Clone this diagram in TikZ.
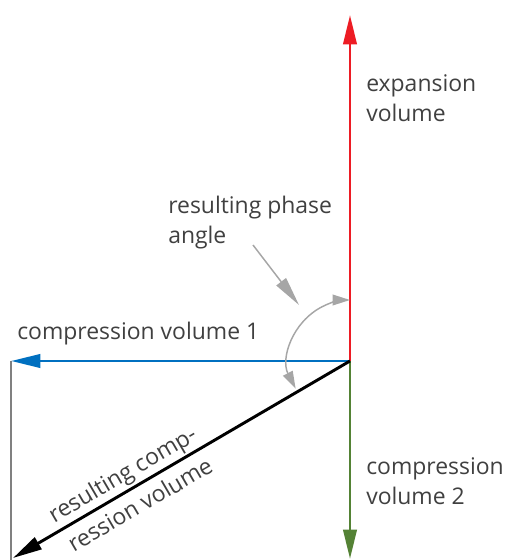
\documentclass[tikz,border=0pt]{standalone}
\usepackage{fontspec}
\setmainfont{Open Sans}
\usetikzlibrary{arrows.meta}
\definecolor{exred}{RGB}{237,28,36}
\definecolor{cpblue}{RGB}{0,112,192}
\definecolor{cpgreen}{RGB}{84,130,53}
\definecolor{txtgray}{RGB}{64,64,64}
\definecolor{arcgray}{RGB}{166,166,166}
\tikzset{
  vec/.style={line width=2.2pt,-{Triangle[length=22pt,width=10pt]}},
  lbl/.style={text=txtgray,font=\fontsize{17.2}{22.5}\selectfont,align=left,inner sep=0pt},
  pointer/.style={arcgray,line width=1.1pt}
}
\begin{document}
\begin{tikzpicture}[x=0.75pt,y=0.75pt]
  \useasboundingbox (-350,-199) rectangle (155,361);
  \coordinate (O) at (0,0);
  \coordinate (exp) at (0,346);
  \coordinate (c1) at (-339,0);
  \coordinate (c2) at (0,-198);
  \coordinate (res) at (-337,-197);
  \coordinate (gb) at (-339,-199);
  % vectors
  \draw[gray,line width=0.8pt] (c1) -- (gb);
  \draw[vec,exred] (O) -- (exp);
  \draw[vec,cpblue] (O) -- (c1);
  \draw[vec,cpgreen] (O) -- (c2);
  \draw[vec,black] (O) -- (res)
    node[pos=0.65,sloped,lbl,align=center] {resulting comp-\\[4pt]ression volume};
  % phase angle
  \draw[pointer,{Triangle[length=13pt,width=8pt]}-{Triangle[length=13pt,width=8pt]}]
    ([shift={(207:61)}]O) arc[start angle=207,end angle=90,radius=61];
  \coordinate (pa) at (-97,116);
  \coordinate (pb) at (-51,56);
  \draw[pointer,-{Triangle[length=22pt,width=9pt]}] (pa) -- (pb);
  % labels
  \node[lbl,anchor=west] (lexp) at (16,263) {expansion\\volume};
  \node[lbl,anchor=west] (lphase) at (-182,138) {resulting phase\\angle};
  \node[lbl,anchor=west] (lc1) at (-333,27) {compression volume 1};
  \node[lbl,anchor=west] (lc2) at (16,-120) {compression\\volume 2};
\end{tikzpicture}
\end{document}
